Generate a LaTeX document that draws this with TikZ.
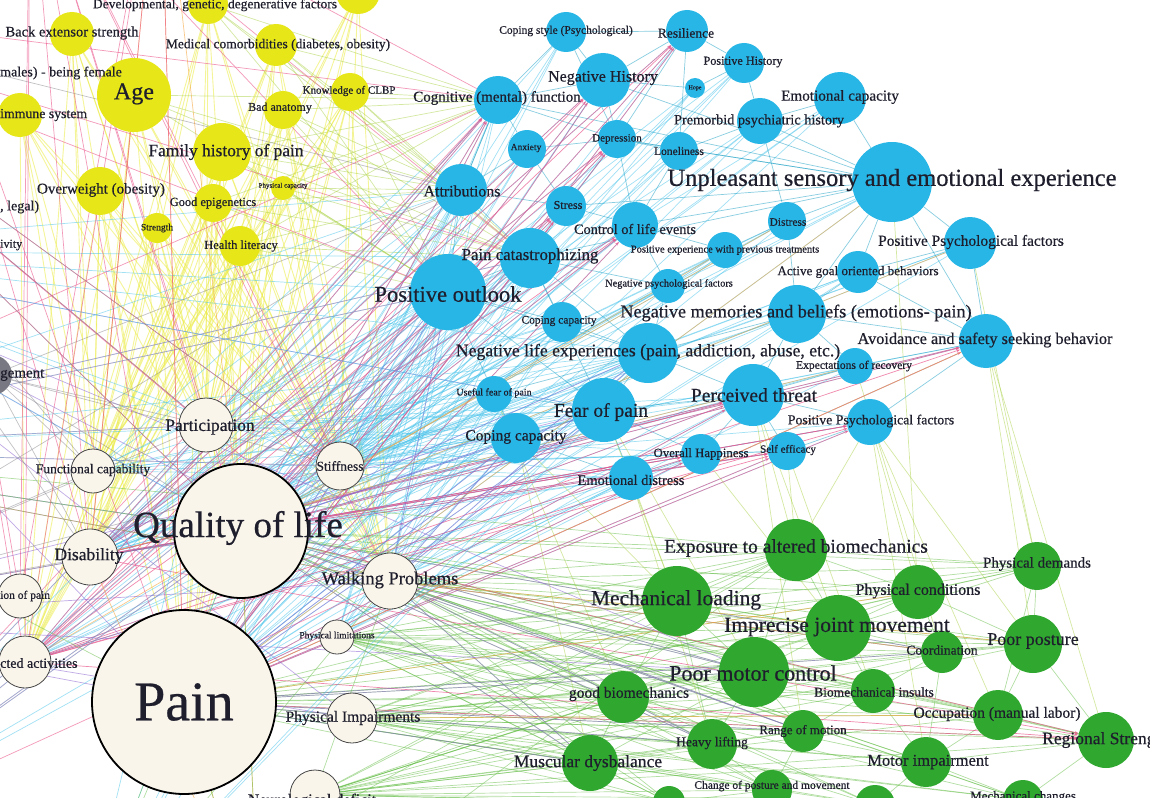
\documentclass[tikz,border=0pt]{standalone}
\usepackage{fontspec}
\setmainfont{Liberation Serif}[FakeBold=0.5]
\usetikzlibrary{arrows.meta}
\definecolor{ycol}{RGB}{230,230,25}
\definecolor{bcol}{RGB}{40,182,230}
\definecolor{gcol}{RGB}{48,168,48}
\definecolor{becol}{RGB}{250,245,235}
\definecolor{bordc}{RGB}{70,70,70}
\definecolor{labc}{RGB}{30,30,45}
\definecolor{eyel}{RGB}{236,236,70}
\definecolor{eblu}{RGB}{70,195,235}
\definecolor{eteal}{RGB}{40,165,200}
\definecolor{egrn}{RGB}{100,190,70}
\definecolor{epink}{RGB}{235,85,140}
\definecolor{epur}{RGB}{140,100,210}
\definecolor{eorg}{RGB}{245,165,60}
\definecolor{egray}{RGB}{120,120,130}
\definecolor{eyg}{RGB}{170,210,70}
\pgfdeclarelayer{bgl}
\pgfdeclarelayer{edgel}
\pgfsetlayers{bgl,edgel,main}
\newcommand\fsz[1]{\fontsize{#1}{#1}\selectfont}
\begin{document}
\begin{tikzpicture}[x=1pt,y=-1pt,
  yn/.style={circle,fill=ycol,inner sep=0pt,minimum size=2*#1},
  bn/.style={circle,fill=bcol,inner sep=0pt,minimum size=2*#1},
  gn/.style={circle,fill=gcol,inner sep=0pt,minimum size=2*#1},
  wn/.style={circle,fill=becol,draw=bordc,line width=0.8pt,inner sep=0pt,minimum size=2*#1},
  wnb/.style={circle,fill=becol,draw=black,line width=1.8pt,inner sep=0pt,minimum size=2*#1},
  lab/.style={inner sep=0pt,text=labc},
  ey/.style={draw=eyel,opacity=.55,line width=.9pt},
  eb/.style={draw=eblu,opacity=.5,line width=.7pt},
  et/.style={draw=eteal,opacity=.55,line width=.7pt},
  eg/.style={draw=egrn,opacity=.5,line width=.7pt},
  ep/.style={draw=epink,opacity=.6,line width=.7pt},
  epa/.style={draw=epink,opacity=.7,line width=.7pt,-{Stealth[length=4pt,width=3pt]}},
  eu/.style={draw=epur,opacity=.55,line width=.7pt},
  eo/.style={draw=eorg,opacity=.6,line width=.7pt},
  ea/.style={draw=egray,opacity=.45,line width=.7pt},
  eyg/.style={draw=eyg,opacity=.5,line width=.7pt},
]
\useasboundingbox (0,0) rectangle (1150,797);
\begin{pgfonlayer}{bgl}
\fill[white] (0,0) rectangle (1150,797);
\end{pgfonlayer}

% off-canvas ends
\coordinate (oL1) at (-300,0);
\coordinate (oL2) at (-250,250);
\coordinate (oL3) at (-300,450);
\coordinate (oL4) at (-250,620);
\coordinate (oL5) at (-200,850);
\coordinate (oB1) at (80,950);
\coordinate (oB2) at (260,950);
\coordinate (oT1) at (30,-150);
\coordinate (oT2) at (160,-180);
\coordinate (oT3) at (-100,-100);

% yellow nodes
\node[yn=20] (dev1) at (208,4) {};
\node[yn=22] (dev2) at (358,-8) {};
\node[yn=22] (back) at (72,34) {};
\node[yn=37] (age) at (134,95) {};
\node[yn=22] (imm) at (20,115) {};
\node[yn=29] (fam) at (222,152) {};
\node[yn=21] (med) at (276,45) {};
\node[yn=19] (know) at (350,92) {};
\node[yn=19] (bad) at (283,110) {};
\node[yn=24] (over) at (100,191) {};
\node[yn=19] (epi) at (213,203) {};
\node[yn=12] (phycap) at (283,188) {};
\node[yn=15] (str) at (157,228) {};
\node[yn=20] (health) at (240,246) {};

% blue nodes
\node[bn=20] (cope) at (566,32) {};
\node[bn=21] (resil) at (687,31) {};
\node[bn=27] (neghist) at (603,80) {};
\node[bn=20] (poshist) at (744,63) {};
\node[bn=10] (hope) at (695,88) {};
\node[bn=26] (emocap) at (840,98) {};
\node[bn=24] (cog) at (498,100) {};
\node[bn=23] (premorb) at (760,121) {};
\node[bn=19] (anx) at (527,149) {};
\node[bn=19] (dep) at (617,139) {};
\node[bn=19] (lone) at (679,151) {};
\node[bn=40] (unpl) at (892,182) {};
\node[bn=26] (attr) at (461,190) {};
\node[bn=20] (stress) at (566,206) {};
\node[bn=23] (control) at (635,225) {};
\node[bn=19] (distress) at (787,221) {};
\node[bn=18] (posexp) at (725,250) {};
\node[bn=26] (pospsyA) at (970,243) {};
\node[bn=30] (cat) at (530,258) {};
\node[bn=21] (active) at (858,272) {};
\node[bn=17] (negpsy) at (668,286) {};
\node[bn=38] (outlook) at (448,292) {};
\node[bn=20] (copeA) at (562,322) {};
\node[bn=29] (negmem) at (797,314) {};
\node[bn=27] (avoid) at (986,341) {};
\node[bn=30] (neglife) at (648,353) {};
\node[bn=18] (expect) at (855,366) {};
\node[bn=18] (useful) at (494,394) {};
\node[bn=32] (fear) at (604,410) {};
\node[bn=31] (threat) at (753,395) {};
\node[bn=23] (pospsyB) at (870,422) {};
\node[bn=25] (copeB) at (516,438) {};
\node[bn=20] (happy) at (701,454) {};
\node[bn=19] (selfeff) at (787,451) {};
\node[bn=22] (emodist) at (631,478) {};

% beige nodes
\node[circle,fill=egray,inner sep=0pt,minimum size=40] (mgmt) at (-8,375) {};
\node[wn=27] (part) at (206,425) {};
\node[wn=22] (func) at (93,471) {};
\node[wn=24] (stiff) at (340,466) {};
\node[wnb=67] (qol) at (241,531) {};
\node[wn=28] (dis) at (90,557) {};
\node[wn=22] (ionpain) at (20,596) {};
\node[wn=28] (walk) at (390,581) {};
\node[wn=17] (physlim) at (337,637) {};
\node[wn=26] (restr) at (25,662) {};
\node[wnb=92] (pain) at (184,702) {};
\node[wn=25] (physimp) at (352,718) {};
\node[wn=25] (neuro) at (315,795) {};

% green nodes
\node[gn=31] (expo) at (796,550) {};
\node[gn=24] (physdem) at (1037,566) {};
\node[gn=35] (mech) at (677,601) {};
\node[gn=27] (physcond) at (918,592) {};
\node[gn=33] (imprec) at (838,628) {};
\node[gn=29] (posture) at (1033,644) {};
\node[gn=21] (coord) at (942,652) {};
\node[gn=35] (motor) at (754,672) {};
\node[gn=26] (goodbio) at (623,697) {};
\node[gn=22] (bioins) at (873,691) {};
\node[gn=25] (occup) at (998,715) {};
\node[gn=28] (regional) at (1106,740) {};
\node[gn=21] (range) at (803,731) {};
\node[gn=25] (heavy) at (712,744) {};
\node[gn=28] (musc) at (590,763) {};
\node[gn=25] (motimp) at (926,762) {};
\node[gn=20] (change) at (772,790) {};
\node[gn=16] (gA) at (669,802) {};
\node[gn=20] (gB) at (875,805) {};
\node[gn=20] (mechch) at (1023,800) {};

\def\yels{dev1,dev2,back,age,imm,fam,med,know,bad,over,epi,phycap,str,health}
\def\blues{cope,resil,neghist,poshist,hope,emocap,cog,premorb,anx,dep,lone,unpl,attr,stress,control,distress,posexp,pospsyA,cat,active,negpsy,outlook,copeA,negmem,avoid,neglife,expect,useful,fear,threat,pospsyB,copeB,happy,selfeff,emodist}
\def\greens{expo,physdem,mech,physcond,imprec,posture,coord,motor,goodbio,bioins,occup,regional,range,heavy,musc,motimp,change,gA,gB,mechch}

\begin{pgfonlayer}{edgel}
% yellow to beige
\foreach \s in \yels {\foreach \t in {pain,qol,part,func,dis,restr,stiff,walk} {\draw[ey] (\s) -- (\t);}}
% yellow to blue
\foreach \s in {dev1,med,know,bad,fam,phycap,epi,health,age} {\foreach \t in {cog,attr,cat,outlook} {\draw[eyg] (\s) -- (\t);}}
% blue to beige
\foreach \s in \blues {\foreach \t in {pain,qol,dis,stiff} {\draw[eb] (\s) -- (\t);}}
\foreach \s in {outlook,cat,attr,fear,copeB,useful,neglife,copeA,emodist,threat,happy,cog} {\foreach \t in {walk,part,physlim,restr,func} {\draw[eb] (\s) -- (\t);}}
% green to beige
\foreach \s in \greens {\foreach \t in {pain,qol,walk,physimp,physlim,neuro} {\draw[eg] (\s) -- (\t);}}
% blue intra
\foreach \s/\t in {cope/resil,cope/neghist,cope/cog,cope/dep,resil/neghist,resil/poshist,resil/dep,resil/lone,neghist/cog,neghist/dep,neghist/hope,poshist/premorb,poshist/hope,emocap/premorb,emocap/unpl,cog/anx,cog/attr,cog/dep,premorb/lone,premorb/unpl,premorb/distress,anx/dep,anx/attr,anx/stress,dep/lone,dep/control,dep/stress,lone/control,unpl/distress,unpl/pospsyA,unpl/active,unpl/negmem,unpl/avoid,unpl/dep,attr/cat,attr/stress,attr/outlook,stress/control,stress/cat,control/posexp,control/negpsy,distress/posexp,distress/negmem,posexp/negpsy,pospsyA/active,pospsyA/avoid,cat/outlook,cat/copeA,cat/neglife,cat/negpsy,active/negmem,active/avoid,negpsy/neglife,outlook/copeA,outlook/neglife,outlook/useful,copeA/neglife,negmem/avoid,negmem/neglife,negmem/threat,negmem/expect,avoid/expect,avoid/pospsyB,neglife/fear,neglife/threat,neglife/useful,expect/threat,useful/fear,useful/copeB,fear/threat,fear/copeB,fear/emodist,fear/happy,threat/pospsyB,threat/selfeff,threat/happy,pospsyB/selfeff,copeB/emodist,happy/selfeff,happy/emodist,cat/fear,outlook/fear,attr/cog,cog/unpl,neghist/unpl,dep/unpl,control/unpl,stress/unpl,cat/unpl} {\draw[et] (\s) -- (\t);}
% green intra
\foreach \s/\t in {expo/mech,expo/imprec,expo/physcond,expo/physdem,expo/motor,mech/imprec,mech/motor,mech/goodbio,mech/heavy,physcond/physdem,physcond/imprec,physcond/posture,physcond/coord,imprec/motor,imprec/coord,imprec/bioins,imprec/posture,posture/coord,posture/occup,posture/regional,posture/physdem,coord/bioins,coord/motimp,motor/goodbio,motor/range,motor/heavy,motor/bioins,motor/musc,goodbio/musc,goodbio/heavy,bioins/range,bioins/occup,bioins/motimp,occup/regional,occup/motimp,range/heavy,range/change,heavy/musc,heavy/change,motimp/regional,motimp/mechch,motimp/gB,change/gA,musc/gA,physdem/occup,regional/mechch} {\draw[eg] (\s) -- (\t);}
% green to blue
\foreach \s/\t in {expo/threat,expo/selfeff,expo/pospsyB,mech/fear,mech/emodist,mech/copeB,imprec/threat,imprec/happy,motor/fear,physcond/pospsyB,posture/avoid,posture/pospsyB,physdem/avoid,coord/expect,goodbio/useful,musc/copeB,heavy/emodist,occup/pospsyB,regional/avoid,range/threat,bioins/selfeff,motimp/pospsyB,physcond/unpl,physdem/pospsyA} {\draw[eyg] (\s) -- (\t);}
% pink arrows
\foreach \s in {pain,qol,dis,restr} {\foreach \t in {cog,dep,resil,neghist,avoid,threat,selfeff,regional,control,stress,pospsyB,happy} {\draw[epa] (\s) -- (\t);}}
% purple
\foreach \s in {pain,qol,walk} {\foreach \t in {coord,motor,range,musc,heavy,fear,neglife,copeB,outlook} {\draw[eu] (\s) -- (\t);}}
% orange
\foreach \s/\t in {pain/avoid,qol/pospsyA,dis/expect,walk/coord,walk/posture,pain/physcond,qol/distress,physimp/occup,restr/posexp,pain/unpl} {\draw[eo] (\s) -- (\t);}
% off-canvas
\foreach \s in {oL1,oL3,oL5,oT1} {\foreach \t in {qol,part,stiff,outlook,cat,cog,walk} {\draw[ep] (\s) -- (\t);}}
\foreach \s in {oL2,oL4} {\foreach \t in {qol,pain,walk,physimp,motor,fear} {\draw[eu] (\s) -- (\t);}}
\foreach \s in {oL2,oL3,oL5,oB1} {\foreach \t in {qol,part,stiff,outlook,attr,cat,neglife,fear} {\draw[eb] (\s) -- (\t);}}
\foreach \s in {oL1,oL4,mgmt} {\foreach \t in {part,func,qol,dis,stiff,attr} {\draw[ea] (\s) -- (\t);}}
\foreach \s in {oT2,oB2} {\foreach \t in {qol,pain,dis} {\draw[eo] (\s) -- (\t);}}
\foreach \s in {oL3,oB1,oB2} {\foreach \t in {pain,qol,walk,expo} {\draw[eg] (\s) -- (\t);}}
\foreach \s in {oT1,oT2,oT3} {\foreach \t in {pain,dis,restr,ionpain} {\draw[ep] (\s) -- (\t);}}
\end{pgfonlayer}

% labels: yellow
\node[lab] (l1) at (215,5) {\fsz{13.5}Developmental, genetic, degenerative factors};
\node[lab] (l2) at (72,33) {\fsz{14.5}Back extensor strength};
\node[lab,anchor=west] (l3) at (0,73) {\fsz{14}males) - being female};
\node[lab] (l4) at (134,94) {\fsz{24}Age};
\node[lab,anchor=west] (l5) at (0,115) {\fsz{13.8}immune system};
\node[lab] (l6) at (226,152) {\fsz{17.4}Family history of pain};
\node[lab] (l7) at (278,45) {\fsz{13.5}Medical comorbidities (diabetes, obesity)};
\node[lab] (l8) at (349,91) {\fsz{11}Knowledge of CLBP};
\node[lab] (l9) at (280,108) {\fsz{12}Bad anatomy};
\node[lab] (l10) at (101,190) {\fsz{15}Overweight (obesity)};
\node[lab,anchor=west] (l11) at (0,207) {\fsz{14}, legal)};
\node[lab] (l12) at (213,203) {\fsz{12.4}Good epigenetics};
\node[lab] (l13) at (283,186) {\fsz{7}Physical capacity};
\node[lab] (l14) at (157,228) {\fsz{9.5}Strength};
\node[lab] (l15) at (241,246) {\fsz{12.4}Health literacy};
\node[lab,anchor=west] (l16) at (0,245) {\fsz{12}ivity};
% labels: blue
\node[lab] (b1) at (566,31) {\fsz{11.5}Coping style (Psychological)};
\node[lab] (b2) at (686,33) {\fsz{13.5}Resilience};
\node[lab] (b3) at (603,78) {\fsz{16}Negative History};
\node[lab] (b4) at (743,62) {\fsz{12.2}Positive History};
\node[lab] (b5) at (695,88) {\fsz{6}Hope};
\node[lab] (b6) at (840,97) {\fsz{15.2}Emotional capacity};
\node[lab] (b7) at (497,98) {\fsz{15}Cognitive (mental) function};
\node[lab] (b8) at (759,121) {\fsz{14.3}Premorbid psychiatric history};
\node[lab] (b9) at (526,148) {\fsz{9.5}Anxiety};
\node[lab] (b10) at (617,139) {\fsz{11}Depression};
\node[lab] (b11) at (679,151) {\fsz{11.5}Loneliness};
\node[lab] (b12) at (892,180) {\fsz{24.5}Unpleasant sensory and emotional experience};
\node[lab] (b13) at (462,191) {\fsz{15.9}Attributions};
\node[lab] (b14) at (568,205) {\fsz{12}Stress};
\node[lab] (b15) at (635,229) {\fsz{14.3}Control of life events};
\node[lab] (b16) at (788,222) {\fsz{11.4}Distress};
\node[lab] (b17) at (725,250) {\fsz{10.5}Positive experience with previous treatments};
\node[lab] (b18) at (971,242) {\fsz{15.4}Positive Psychological factors};
\node[lab] (b19) at (530,256) {\fsz{16.8}Pain catastrophizing};
\node[lab] (b20) at (858,272) {\fsz{13.1}Active goal oriented behaviors};
\node[lab] (b21) at (669,284) {\fsz{10.3}Negative psychological factors};
\node[lab] (b22) at (448,294) {\fsz{22.5}Positive outlook};
\node[lab] (b23) at (559,321) {\fsz{11.5}Coping capacity};
\node[lab] (b24) at (796,313) {\fsz{18.2}Negative memories and beliefs (emotions- pain)};
\node[lab] (b25) at (985,340) {\fsz{16.3}Avoidance and safety seeking behavior};
\node[lab] (b26) at (648,352) {\fsz{17.7}Negative life experiences (pain, addiction, abuse, etc.)};
\node[lab] (b27) at (854,366) {\fsz{11.6}Expectations of recovery};
\node[lab] (b28) at (494,393) {\fsz{10}Useful fear of pain};
\node[lab] (b29) at (601,412) {\fsz{19.5}Fear of pain};
\node[lab] (b30) at (754,395) {\fsz{19.5}Perceived threat};
\node[lab] (b31) at (871,421) {\fsz{13.8}Positive Psychological factors};
\node[lab] (b32) at (516,437) {\fsz{15.5}Coping capacity};
\node[lab] (b33) at (701,454) {\fsz{12.8}Overall Happiness};
\node[lab] (b34) at (788,450) {\fsz{11}Self efficacy};
\node[lab] (b35) at (631,480) {\fsz{14.4}Emotional distress};
% labels: beige
\node[lab,anchor=west] (w1) at (0,375) {\fsz{15}gement};
\node[lab] (w2) at (210,427) {\fsz{17.5}Participation};
\node[lab] (w3) at (93,470) {\fsz{13.5}Functional capability};
\node[lab] (w4) at (340,466) {\fsz{13.5}Stiffness};
\node[lab] (w5) at (238,528) {\fsz{37}Quality of life};
\node[lab] (w6) at (89,556) {\fsz{17.5}Disability};
\node[lab,anchor=west] (w7) at (0,596) {\fsz{11.5}ion of pain};
\node[lab] (w8) at (390,580) {\fsz{18.5}Walking Problems};
\node[lab] (w9) at (337,636) {\fsz{9.5}Physical limitations};
\node[lab,anchor=west] (w10) at (0,663) {\fsz{14}cted activities};
\node[lab] (w11) at (184,702) {\fsz{56}Pain};
\node[lab] (w12) at (353,718) {\fsz{15.5}Physical Impairments};
\node[lab] (w13) at (312,801) {\fsz{16}Neurological deficit};
% labels: green
\node[lab] (g1) at (796,548) {\fsz{19.5}Exposure to altered biomechanics};
\node[lab] (g2) at (1037,564) {\fsz{15}Physical demands};
\node[lab] (g3) at (676,600) {\fsz{21.5}Mechanical loading};
\node[lab] (g4) at (918,591) {\fsz{16}Physical conditions};
\node[lab] (g5) at (837,627) {\fsz{21.5}Imprecise joint movement};
\node[lab] (g6) at (1033,641) {\fsz{18}Poor posture};
\node[lab] (g7) at (942,650) {\fsz{13.5}Coordination};
\node[lab] (g8) at (753,673) {\fsz{22}Poor motor control};
\node[lab] (g9) at (629,694) {\fsz{15.5}good biomechanics};
\node[lab] (g10) at (874,692) {\fsz{13.5}Biomechanical insults};
\node[lab] (g11) at (997,714) {\fsz{15.5}Occupation (manual labor)};
\node[lab,anchor=west] (g12) at (1042,740) {\fsz{17.5}Regional Strength};
\node[lab] (g13) at (803,731) {\fsz{13}Range of motion};
\node[lab] (g14) at (712,743) {\fsz{13.5}Heavy lifting};
\node[lab] (g15) at (588,763) {\fsz{17.5}Muscular dysbalance};
\node[lab] (g16) at (928,762) {\fsz{16.5}Motor impairment};
\node[lab] (g17) at (772,786) {\fsz{11.5}Change of posture and movement};
\node[lab] (g18) at (1023,797) {\fsz{13}Mechanical changes};
\end{tikzpicture}
\end{document}
